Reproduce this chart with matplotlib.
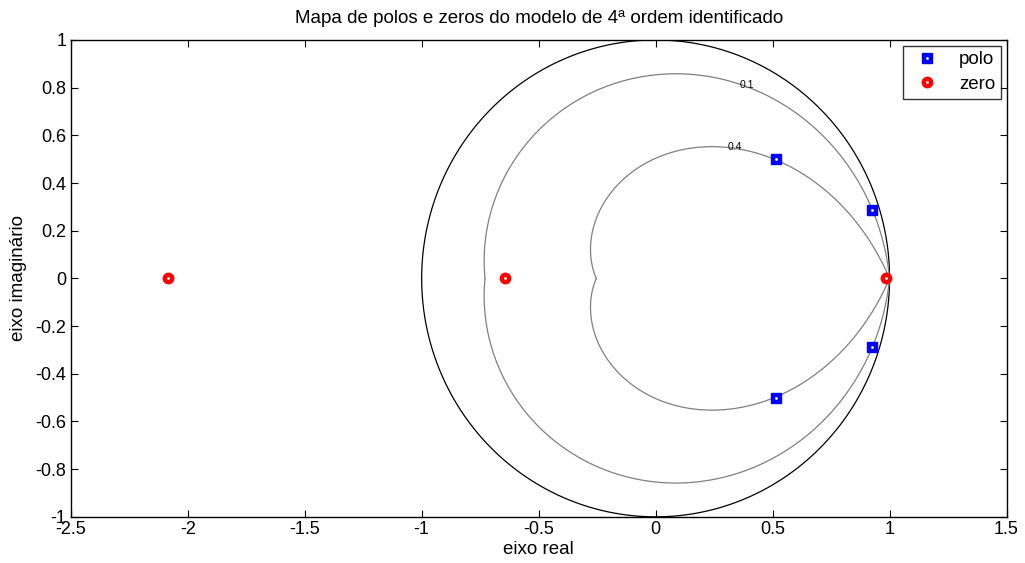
import numpy as np
import matplotlib
matplotlib.use('Agg')
import matplotlib.pyplot as plt
from matplotlib.lines import Line2D

plt.rcParams['font.family'] = ['Liberation Sans', 'DejaVu Sans']

# poles and zeros of the identified 4th-order model
pole_re = [0.513, 0.513, 0.927, 0.927]
pole_im = [0.501, -0.501, 0.287, -0.287]
zero_re = [-2.085, -0.645, 0.985]
zero_im = [0.0, 0.0, 0.0]

# damping ratio grid curves (zgrid style) and their labels
zetas = [0.1, 0.4]
zeta_labels = ['0.1', '0.4']
label_pos = [(0.39, 0.81), (0.34, 0.55)]

fig = plt.figure(figsize=(10.25, 5.63), dpi=100)
ax = fig.add_axes([0.069, 0.082, 0.913, 0.847])

# unit circle
t = np.linspace(0, 2 * np.pi, 500)
ax.plot(np.cos(t), np.sin(t), color='black', lw=0.9)

# constant damping curves
th = np.linspace(0, np.pi, 300)
for z, lab, pos in zip(zetas, zeta_labels, label_pos):
    r = np.exp(-z * th / np.sqrt(1 - z ** 2))
    ax.plot(r * np.cos(th), r * np.sin(th), color='gray', lw=0.9)
    ax.plot(r * np.cos(th), -r * np.sin(th), color='gray', lw=0.9)
    ax.text(pos[0], pos[1], lab, fontsize=7.5, ha='center', va='center')

ax.plot(pole_re, pole_im, 's', color='blue', ms=7.5, mec='blue')
ax.plot(zero_re, zero_im, 'o', color='red', ms=7.5, mec='red')
# small white centres like MATLAB's thick markers
ax.plot(pole_re + zero_re, pole_im + zero_im, '.', color='white', ms=2)

ax.set_xlim(-2.5, 1.5)
ax.set_ylim(-1, 1)
ax.set_xticks(np.arange(-2.5, 1.51, 0.5))
ax.set_xticklabels(['-2.5', '-2', '-1.5', '-1', '-0.5', '0', '0.5', '1', '1.5'])
ax.set_yticks(np.arange(-1, 1.01, 0.2))
ax.set_yticklabels(['-1', '-0.8', '-0.6', '-0.4', '-0.2', '0', '0.2', '0.4', '0.6', '0.8', '1'])
ax.tick_params(direction='in', top=True, right=True, labelsize=13, length=5, pad=3)
for s in ax.spines.values():
    s.set_linewidth(1.0)

ax.set_title('Mapa de polos e zeros do modelo de 4ª ordem identificado', fontsize=13.5, pad=12)
ax.set_xlabel('eixo real', fontsize=13.5, labelpad=2)
ax.set_ylabel('eixo imaginário', fontsize=13.5, labelpad=6)

# legend handles with the white centre dot
h_polo = (Line2D([], [], ls='none', marker='s', color='blue', ms=7.5),
          Line2D([], [], ls='none', marker='.', color='white', ms=2))
h_zero = (Line2D([], [], ls='none', marker='o', color='red', ms=7.5),
          Line2D([], [], ls='none', marker='.', color='white', ms=2))
leg = ax.legend([h_polo, h_zero], ['polo', 'zero'], loc='upper right', fontsize=13.5,
                frameon=True, fancybox=False, edgecolor='black', borderaxespad=0.3,
                handlelength=2.0, handletextpad=0.7, borderpad=0.3, labelspacing=0.4)
leg.get_frame().set_linewidth(1.0)

fig.savefig('out.png', dpi=100)
